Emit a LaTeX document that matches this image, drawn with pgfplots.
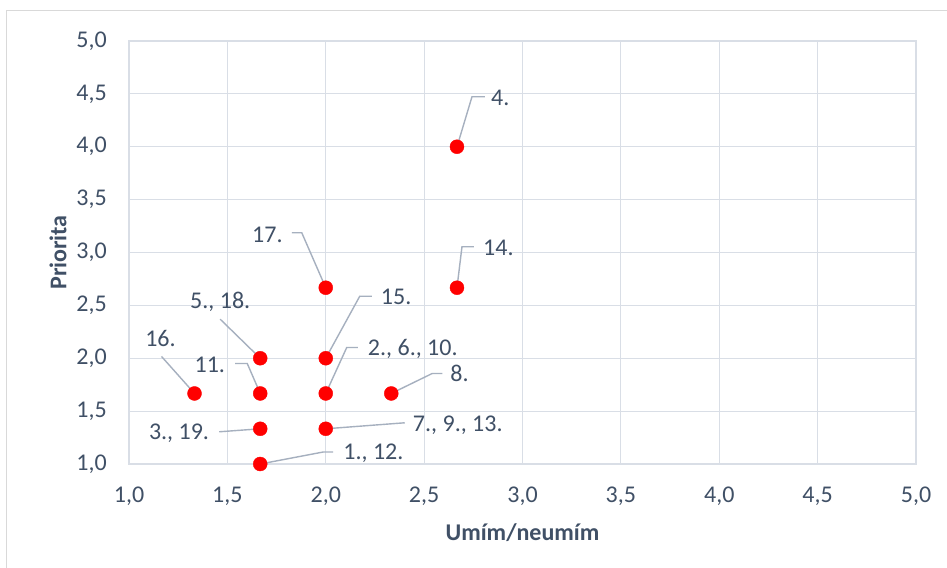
\documentclass[border=0pt]{standalone}
\usepackage{pgfplots}
\pgfplotsset{compat=1.18}
\usepackage{fontspec}
\setmainfont{Carlito}
\definecolor{txt}{RGB}{64,80,102}
\definecolor{gridc}{RGB}{217,222,230}
\definecolor{leadc}{RGB}{166,176,191}
\definecolor{brd}{RGB}{217,217,217}
\begin{document}
\begin{tikzpicture}
\useasboundingbox (0,0) rectangle (947bp,568bp);
\fill[white] (0,0) rectangle (947bp,568bp);
\draw[brd, line width=1bp] (6.5bp,0) -- (6.5bp,557.5bp) -- (947bp,557.5bp);
\begin{axis}[
  at={(129bp,104bp)}, anchor=south west,
  scale only axis, width=787bp, height=423bp,
  xmin=1, xmax=5, ymin=1, ymax=5,
  xtick={1,1.5,...,5}, ytick={1,1.5,...,5},
  major tick length=0pt,
  grid=major,
  major grid style={gridc, line width=1.2bp},
  axis line style={gridc, line width=1.2bp},
  /pgf/number format/.cd, use comma, fixed, fixed zerofill, precision=1, assume math mode=true,
  /pgfplots/.cd,
  tick label style={font=\fontsize{24bp}{28bp}\selectfont, text=txt, inner sep=0pt},
  xticklabel style={yshift=-23bp},
  yticklabel style={xshift=-22bp},
  every axis x label/.style={at={([yshift=-69bp]axis description cs:0.5,0)}, anchor=center},
  every axis y label/.style={at={([xshift=-71bp]axis description cs:0,0.5)}, anchor=center, rotate=90},
  label style={font=\fontsize{24bp}{28bp}\selectfont\bfseries, text=txt},
  xlabel={Umím/neumím},
  ylabel={Priorita},
  clip=false,
]
\tikzset{leadline/.style={draw=leadc, line width=1.4bp}, lbl/.style={font=\fontsize{24bp}{28bp}\selectfont, text=txt, inner sep=0pt}}
% leader lines
\draw[leadline] (axis cs:2.667,4) -- ++(15bp,50bp) -- ++(13bp,0bp);
\draw[leadline] (axis cs:2.667,2.667) -- ++(5bp,41bp) -- ++(12bp,0bp);
\draw[leadline] (axis cs:2,2.667) -- ++(-24bp,55bp) -- ++(-10bp,0bp);
\draw[leadline] (axis cs:1.667,2) -- ++(-40bp,39bp);
\draw[leadline] (axis cs:2,2) -- ++(34bp,62bp) -- ++(12bp,0bp);
\draw[leadline] (axis cs:1.333,1.667) -- ++(-33bp,37bp);
\draw[leadline] (axis cs:1.667,1.667) -- ++(-13bp,30bp) -- ++(-12bp,0bp);
\draw[leadline] (axis cs:2,1.667) -- ++(21bp,46bp) -- ++(11bp,0bp);
\draw[leadline] (axis cs:2.333,1.667) -- ++(41bp,20bp) -- ++(10bp,0bp);
\draw[leadline] (axis cs:1.667,1.333) -- ++(-41bp,-3bp);
\draw[leadline] (axis cs:2,1.333) -- ++(79bp,6bp);
\draw[leadline] (axis cs:1.667,1) -- ++(63bp,12bp) -- ++(10bp,0bp);
\addplot[only marks, mark=*, mark size=7bp, mark options={fill=red, draw=red}] coordinates {
 (2.667,4) (2.667,2.667) (2,2.667) (1.667,2) (2,2) (1.333,1.667)
 (1.667,1.667) (2,1.667) (2.333,1.667) (1.667,1.333) (2,1.333) (1.667,1)
};
% labels
\node[lbl, anchor=west] at ([shift={(34bp,49bp)}]axis cs:2.667,4) {4.};
\node[lbl, anchor=west] at ([shift={(26bp,40bp)}]axis cs:2.667,2.667) {14.};
\node[lbl, anchor=east] at ([shift={(-43bp,53bp)}]axis cs:2,2.667) {17.};
\node[lbl, anchor=center] at ([shift={(-40bp,56bp)}]axis cs:1.667,2) {5., 18.};
\node[lbl, anchor=west] at ([shift={(55bp,61bp)}]axis cs:2,2) {15.};
\node[lbl, anchor=center] at ([shift={(-34bp,55bp)}]axis cs:1.333,1.667) {16.};
\node[lbl, anchor=east] at ([shift={(-35bp,29bp)}]axis cs:1.667,1.667) {11.};
\node[lbl, anchor=west] at ([shift={(42bp,45bp)}]axis cs:2,1.667) {2., 6., 10.};
\node[lbl, anchor=west] at ([shift={(59bp,20bp)}]axis cs:2.333,1.667) {8.};
\node[lbl, anchor=east] at ([shift={(-51bp,-4bp)}]axis cs:1.667,1.333) {3., 19.};
\node[lbl, anchor=west] at ([shift={(87bp,4bp)}]axis cs:2,1.333) {7., 9., 13.};
\node[lbl, anchor=west] at ([shift={(83bp,11bp)}]axis cs:1.667,1) {1., 12.};
\end{axis}
\end{tikzpicture}
\end{document}
